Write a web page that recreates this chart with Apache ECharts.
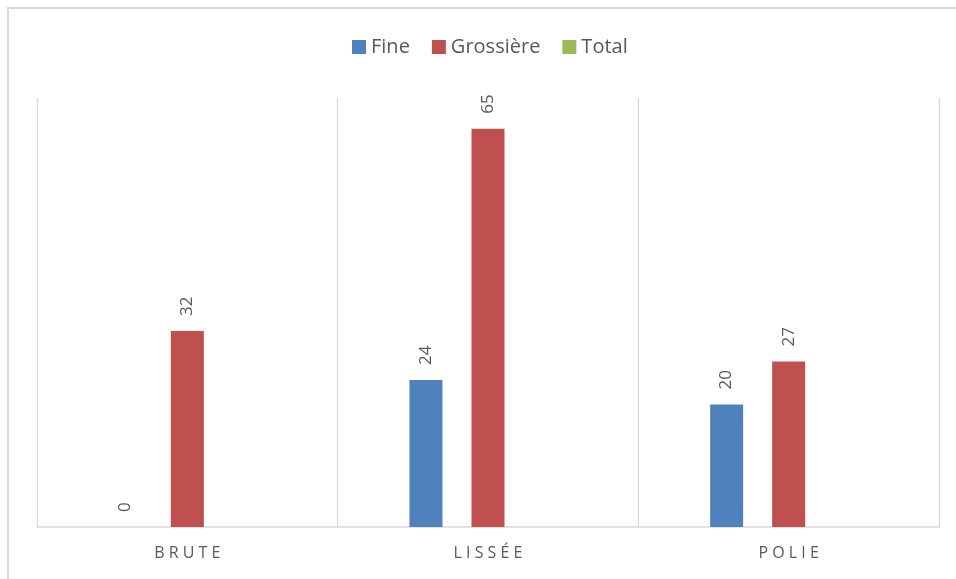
<!DOCTYPE html>
<html>
<head>
<meta charset="utf-8">
<script src="https://cdn.jsdelivr.net/npm/echarts@6/dist/echarts.min.js"></script>
<style>
  html, body { margin: 0; padding: 0; background: #ffffff; overflow: hidden; }
  #chart { width: 956px; height: 579px; }
</style>
</head>
<body>
<div id="chart"></div>
<script>
// Finish types and the counts measured for each
const categories = ['BRUTE', 'LISSÉE', 'POLIE'];
const fineValues = [0, 24, 20];
const grossiereValues = [32, 65, 27];
const totalValues = [null, null, null];
const seriesNames = ['Fine', 'Grossière', 'Total'];
const seriesColors = ['#4f81bd', '#c0504d', '#9bbb59'];

const FONT = '"Open Sans", "Liberation Sans", sans-serif';
const TEXT_GREY = '#595959';
const LINE_GREY = '#d9d9d9';

// spread capitals out, like tracked category captions
const track = (s) => s.split('').join(' ');

const chart = echarts.init(document.getElementById('chart'));

const valueLabel = {
  show: true,
  position: 'top',
  rotate: 90,
  align: 'left',
  verticalAlign: 'middle',
  distance: 15,
  color: TEXT_GREY,
  fontSize: 17,
  fontFamily: FONT
};

const makeSeries = (name, data, color) => ({
  name: name,
  type: 'bar',
  data: data,
  barWidth: 33,
  barGap: '88%',
  itemStyle: { color: color },
  label: valueLabel,
  emphasis: { disabled: true }
});

chart.setOption({
  animation: false,
  textStyle: { fontFamily: FONT },
  // chart-area frame: only its left and top edges fall inside the page
  graphic: [{
    type: 'polyline',
    shape: { points: [[8, 700], [8, 8], [1100, 8]] },
    style: { fill: null, stroke: LINE_GREY, lineWidth: 2 },
    silent: true,
    z: -1
  }],
  legend: {
    data: seriesNames,
    top: 37,
    left: 352,
    padding: 0,
    icon: 'rect',
    itemWidth: 14,
    itemHeight: 14,
    itemGap: 22,
    textStyle: { color: TEXT_GREY, fontSize: 20, fontFamily: FONT }
  },
  grid: { left: 37, right: 17, top: 98, bottom: 52, containLabel: false },
  xAxis: {
    type: 'category',
    data: categories,
    boundaryGap: true,
    axisLine: { show: true, lineStyle: { color: LINE_GREY, width: 1.5 } },
    axisTick: { show: false },
    splitLine: { show: true, lineStyle: { color: LINE_GREY, width: 1.3 } },
    axisLabel: {
      color: TEXT_GREY,
      fontSize: 16,
      fontFamily: FONT,
      margin: 18,
      formatter: track
    }
  },
  yAxis: {
    type: 'value',
    min: 0,
    max: 70,
    show: false,
    splitLine: { show: false }
  },
  series: [
    makeSeries(seriesNames[0], fineValues, seriesColors[0]),
    makeSeries(seriesNames[1], grossiereValues, seriesColors[1]),
    makeSeries(seriesNames[2], totalValues, seriesColors[2])
  ]
});
</script>
</body>
</html>
